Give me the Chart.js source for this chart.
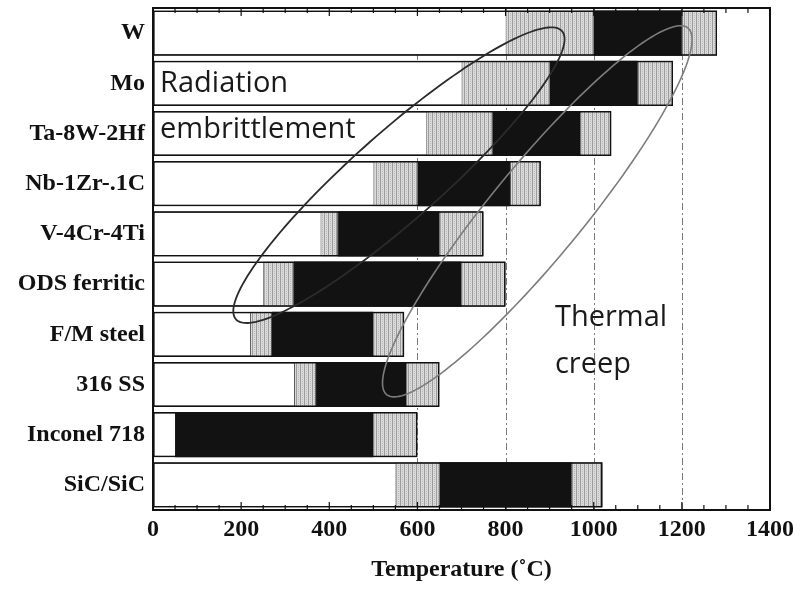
<!DOCTYPE html>
<html>
<head>
<meta charset="utf-8">
<script src="https://cdn.jsdelivr.net/npm/chart.js@4.4.1/dist/chart.umd.min.js"></script>
<style>
  html, body { margin: 0; padding: 0; background: #fff; }
</style>
</head>
<body>
<canvas id="materialChart" width="793" height="594"></canvas>
<script>
// Materials, top to bottom
const materials = ['W', 'Mo', 'Ta-8W-2Hf', 'Nb-1Zr-.1C', 'V-4Cr-4Ti', 'ODS ferritic', 'F/M steel', '316 SS', 'Inconel 718', 'SiC/SiC'];

// Temperature windows (°C)
const lowerLimit = [800, 700, 620, 500, 380, 250, 220, 320, 50, 550];   // start of the grey band
const blackStart = [1000, 900, 770, 600, 420, 320, 270, 370, 50, 650];  // start of the black band
const blackEnd   = [1200, 1100, 970, 810, 650, 700, 500, 575, 500, 950]; // end of the black band
const upperLimit = [1280, 1180, 1040, 880, 750, 800, 570, 650, 600, 1020]; // end of the grey band

// Axis ticks and the dash-dot guide lines
const tempTicks = [0, 200, 400, 600, 800, 1000, 1200, 1400];
const guideTemps = [600, 800, 1000, 1200];

// Ellipses in data units: centre, end of long axis, end of short axis  [°C, row]
const radiationEllipse = { center: [558, 2.83], major: [928, -0.04], minor: [624, 3.49] };
const creepEllipse = { center: [872, 3.55], major: [1214, -0.10], minor: [952, 4.14] };

// Text labels in data units [°C, row (baseline)]
const notes = [
    { text: 'Radiation', at: [16, 1.17] },
    { text: 'embrittlement', at: [16, 2.09] },
    { text: 'Thermal', at: [912, 5.84] },
    { text: 'creep', at: [912, 6.78] }
];

// Stippled grey fill like the original print
function makeStipple() {
    const c = document.createElement('canvas');
    c.width = 4; c.height = 4;
    const g = c.getContext('2d');
    g.fillStyle = '#dadada'; g.fillRect(0, 0, 4, 4);
    g.fillStyle = '#9c9c9c'; g.fillRect(0, 0, 1, 4);  // vertical stripe
    g.fillStyle = '#b8b8b8'; g.fillRect(2, 1, 1, 1); g.fillRect(2, 3, 1, 1); // dots
    return g.createPattern(c, 'repeat');
}
const stipple = makeStipple();

const serifBold = { family: "'Liberation Serif', 'Times New Roman', serif", weight: 'bold' };

// Plugin: guide lines, inward tick marks, frame, ellipses and notes
const decorations = {
    id: 'decorations',
    beforeDatasetsDraw(chart) {
        const { ctx, chartArea: a, scales: { x } } = chart;
        ctx.save();
        ctx.strokeStyle = '#7a7a7a';
        ctx.lineWidth = 1;
        ctx.setLineDash([7, 3, 2, 3]); // dash-dot
        guideTemps.forEach(t => {
            const px = Math.round(x.getPixelForValue(t)) + 0.5;
            ctx.beginPath();
            ctx.moveTo(px, a.top);
            ctx.lineTo(px, a.bottom);
            ctx.stroke();
        });
        ctx.restore();
    },
    afterDatasetsDraw(chart) {
        const { ctx, chartArea: a, scales: { x, y } } = chart;
        ctx.save();

        // Frame round the plot
        ctx.strokeStyle = '#111';
        ctx.lineWidth = 2;
        ctx.strokeRect(a.left, a.top, a.right - a.left, a.bottom - a.top);

        // Inward tick marks every 50 °C, longer at the labelled ones
        ctx.lineWidth = 1.2;
        for (let t = 0; t <= 1400; t += 50) {
            const px = x.getPixelForValue(t);
            const len = tempTicks.includes(t) ? 8 : 5;
            ctx.beginPath();
            ctx.moveTo(px, a.bottom); ctx.lineTo(px, a.bottom - len);
            ctx.moveTo(px, a.top); ctx.lineTo(px, a.top + len);
            ctx.stroke();
        }

        // Ellipses drawn through the scales
        const drawEllipse = (e, color, width) => {
            ctx.strokeStyle = color;
            ctx.lineWidth = width;
            ctx.beginPath();
            for (let k = 0; k <= 160; k++) {
                const th = k / 160 * Math.PI * 2;
                const tv = e.center[0] + (e.major[0] - e.center[0]) * Math.cos(th) + (e.minor[0] - e.center[0]) * Math.sin(th);
                const rv = e.center[1] + (e.major[1] - e.center[1]) * Math.cos(th) + (e.minor[1] - e.center[1]) * Math.sin(th);
                const px = x.getPixelForValue(tv);
                const py = y.getPixelForValue(rv);
                if (k === 0) ctx.moveTo(px, py); else ctx.lineTo(px, py);
            }
            ctx.closePath();
            ctx.stroke();
        };
        drawEllipse(radiationEllipse, '#2b2b2b', 1.8);
        drawEllipse(creepEllipse, '#7c7c7c', 1.6);

        // Notes
        ctx.fillStyle = '#1a1a1a';
        ctx.font = "29px 'Open Sans', 'Noto Sans', sans-serif";
        ctx.textAlign = 'left';
        ctx.textBaseline = 'alphabetic';
        notes.forEach(n => {
            ctx.fillText(n.text, x.getPixelForValue(n.at[0]), y.getPixelForValue(n.at[1]));
        });
        ctx.restore();
    }
};

const ctx = document.getElementById('materialChart').getContext('2d');
const chart = new Chart(ctx, {
    type: 'bar',
    data: {
        labels: materials,
        datasets: [
            {
                label: 'box', // white box from 0 to the upper limit
                data: materials.map((m, i) => [0, upperLimit[i]]),
                backgroundColor: '#ffffff',
                borderColor: '#111',
                borderWidth: 1.5,
                order: 5
            },
            {
                label: 'lower grey',
                data: materials.map((m, i) => [lowerLimit[i], blackStart[i]]),
                backgroundColor: stipple,
                borderColor: '#555',
                borderWidth: 1,
                order: 4
            },
            {
                label: 'black',
                data: materials.map((m, i) => [blackStart[i], blackEnd[i]]),
                backgroundColor: '#121212',
                borderWidth: 0,
                order: 3
            },
            {
                label: 'upper grey',
                data: materials.map((m, i) => [blackEnd[i], upperLimit[i]]),
                backgroundColor: stipple,
                borderColor: '#555',
                borderWidth: 1,
                order: 3
            },
            {
                label: 'outline', // dark outline drawn on top
                data: materials.map((m, i) => [0, upperLimit[i]]),
                backgroundColor: 'rgba(0,0,0,0)',
                borderColor: '#111',
                borderWidth: 1.5,
                order: 1
            }
        ]
    },
    options: {
        indexAxis: 'y',
        responsive: false,
        animation: false,
        grouped: false,
        barPercentage: 0.9,
        categoryPercentage: 1.0,
        borderSkipped: false,
        layout: { padding: { top: 8, right: 23, left: 0, bottom: 0 } },
        plugins: {
            legend: { display: false },
            tooltip: { enabled: false }
        },
        scales: {
            x: {
                type: 'linear',
                min: 0,
                max: 1400,
                afterBuildTicks: s => { s.ticks = tempTicks.map(v => ({ value: v })); },
                ticks: {
                    font: { ...serifBold, size: 24 },
                    color: '#111',
                    padding: 5,
                    maxRotation: 0,
                    callback: v => String(v) // no thousands separator
                },
                grid: { display: false, drawTicks: false },
                border: { display: false },
                title: {
                    display: true,
                    text: 'Temperature (˚C)',
                    font: { ...serifBold, size: 24 },
                    color: '#111',
                    padding: { top: 0, bottom: 10 }
                },
                afterFit: s => { s.paddingLeft = 0; s.paddingRight = 0; s.height = 84; }
            },
            y: {
                ticks: { font: { ...serifBold, size: 24 }, color: '#111', padding: 8 },
                grid: { display: false, drawTicks: false },
                border: { display: false },
                afterFit: s => { s.width = 153; s.paddingTop = 0; s.paddingBottom = 0; }
            }
        }
    },
    plugins: [decorations]
});
</script>
</body>
</html>
